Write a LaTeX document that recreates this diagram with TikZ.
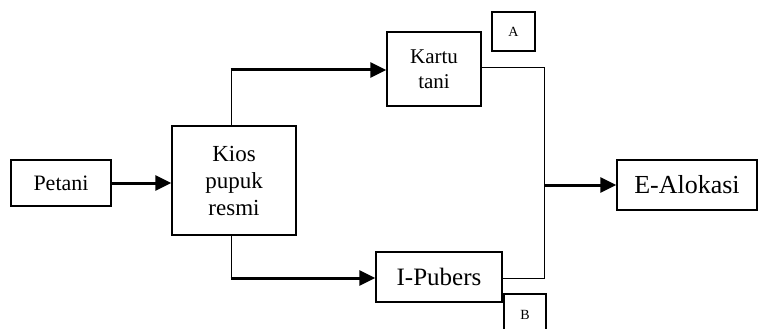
\documentclass[tikz,border=0pt]{standalone}
\usepackage{fontspec}
\setmainfont{Liberation Serif}
\usetikzlibrary{arrows.meta}
\tikzset{
  box/.style={draw, line width=1.5pt, inner sep=0pt, align=center, fill=white},
  thickarrow/.style={line width=3pt, -{Triangle[length=16pt,width=15pt]}},
  thinline/.style={line width=1pt},
}
\begin{document}
\begin{tikzpicture}[x=1pt,y=-1pt]
\clip (0,0) rectangle (758,329);
\useasboundingbox (0,0) rectangle (758,329);
\node[box, minimum width=100pt, minimum height=46pt, font=\fontsize{22}{26}\selectfont] (petani) at (61,183) {Petani};
\node[box, minimum width=124pt, minimum height=109pt, font=\fontsize{23}{27}\selectfont] (kios) at (234,180.5) {Kios\\pupuk\\resmi};
\node[box, minimum width=94pt, minimum height=74pt, font=\fontsize{21}{25}\selectfont] (kartu) at (434,69) {Kartu\\tani};
\node[box, minimum width=43pt, minimum height=39pt, font=\fontsize{14}{16}\selectfont] (a) at (513.5,31.5) {A};
\node[box, minimum width=126pt, minimum height=50pt, font=\fontsize{25}{29}\selectfont] (ipubers) at (439,277) {I-Pubers};
\node[box, minimum width=42pt, minimum height=44pt, font=\fontsize{14}{16}\selectfont, text depth=0pt] (b) at (525,316) {\raisebox{3pt}{B}};
\node[box, minimum width=140pt, minimum height=50pt, font=\fontsize{26}{30}\selectfont] (ealok) at (687,185) {E-Alokasi};
% connectors
\draw[thickarrow] (petani.east) -- (kios.west |- petani.east);
\coordinate (t1) at (231,70);
\coordinate (b1) at (231,278);
\draw[thinline] (kios.north -| t1) -- (t1);
\draw[thickarrow] ([xshift=-0.5pt]t1) -- (kartu.west |- t1);
\draw[thinline] (kios.south -| b1) -- (b1);
\draw[thickarrow] ([xshift=-0.5pt]b1) -- (ipubers.west |- b1);
\coordinate (j1) at (544,68);
\coordinate (j2) at (544,278);
\coordinate (j3) at (544,185);
\draw[thinline] (kartu.east |- j1) -- (j1) -- (j2) -- (ipubers.east |- j2);
\draw[thickarrow] (j3) -- (ealok.west |- j3);
\end{tikzpicture}
\end{document}
